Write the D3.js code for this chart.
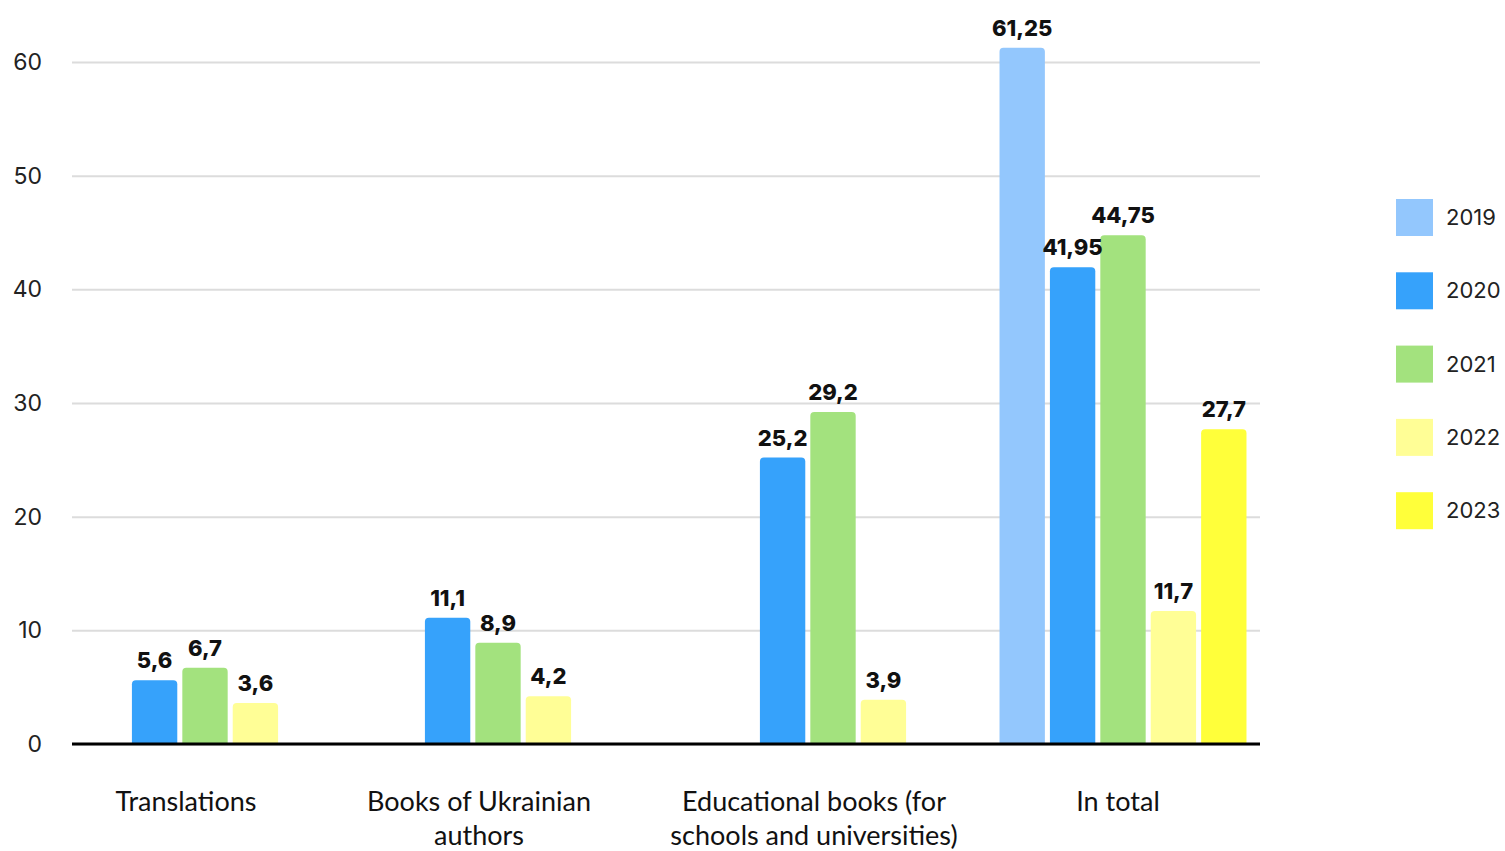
<!DOCTYPE html>
<html>
<head>
<meta charset="utf-8">
<script src="https://cdn.jsdelivr.net/npm/d3@7"></script>
<style>
  body { margin: 0; background: #fff; }
  .tick-label { font-family: Inter, "Open Sans", sans-serif; font-size: 23px; fill: #222; }
  .value { font-family: Inter, "Open Sans", sans-serif; font-size: 22px; font-weight: 800; fill: #111; }
  .cat { font-family: Lato, "Open Sans", sans-serif; font-size: 27px; fill: #111; }
  .legend-text { font-family: Inter, "Open Sans", sans-serif; font-size: 22px; fill: #222; }
</style>
</head>
<body>
<div class="main"></div>
<script>

const categories = ["Translations", "Books of Ukrainian authors", "Educational books (for schools and universities)", "In total"]
const categoryLines = [["Translations"], ["Books of Ukrainian", "authors"], ["Educational books (for", "schools and universities)"], ["In total"]]
const years = ["2019", "2020", "2021", "2022", "2023"]

// null = no bar for that year
const values2019 = [null, null, null, 61.25]
const values2020 = [5.6, 11.1, 25.2, 41.95]
const values2021 = [6.7, 8.9, 29.2, 44.75]
const values2022 = [3.6, 4.2, 3.9, 11.7]
const values2023 = [null, null, null, 27.7]

const yTicks = [0, 10, 20, 30, 40, 50, 60]

const colors = ["#93c7fd", "#36a2fb", "#a3e27e", "#fffe96", "#ffff3a"]

const chart = () => {

    ////////////
    // CANVAS //
    ////////////

    const w = 1505
    const h = 851
    const plot = { left: 72, right: 1260, top: 62, bottom: 744 }

    const svg = d3.select(".main")
        .append("svg")
        .attr("width", w)
        .attr("height", h)

    const series = [values2019, values2020, values2021, values2022, values2023]
    const data = []
    categories.forEach((c, i) => {
        years.forEach((y, j) => {
            const v = series[j][i]
            if (v !== null) data.push({ cat: c, year: y, value: v })
        })
    })

    ////////////
    // SCALES //
    ////////////

    const yScale = d3.scaleLinear()
        .domain([0, 60])
        .range([plot.bottom, plot.top])

    // group centres are not evenly spaced in the original
    const xCat = d3.scaleOrdinal()
        .domain(categories)
        .range([205, 498, 833, 1123])

    const xYear = d3.scaleBand()
        .domain(years)
        .range([-126, 126])
        .paddingInner(0.1)
        .paddingOuter(0.05)

    const color = d3.scaleOrdinal().domain(years).range(colors)

    //////////
    // GRID //
    //////////

    const yAxis = d3.axisLeft(yScale)
        .tickValues(yTicks)
        .tickSize(-(plot.right - plot.left))
        .tickFormat(d3.format("d"))

    const yAxisG = svg.append("g")
        .attr("transform", `translate(${plot.left},0)`)
        .call(yAxis)

    yAxisG.select(".domain").remove()
    yAxisG.selectAll(".tick line")
        .attr("stroke", "#dcdcdc")
        .attr("stroke-width", 2)
    yAxisG.selectAll(".tick text")
        .attr("class", "tick-label")
        .attr("x", -30)
        .attr("text-anchor", "end")

    //////////
    // BARS //
    //////////

    const bw = xYear.bandwidth()
    const r = 4
    const barPath = d => {
        const x0 = xCat(d.cat) + xYear(d.year)
        const y0 = yScale(d.value)
        const yb = yScale(0)
        return `M${x0},${yb} V${y0 + r} Q${x0},${y0} ${x0 + r},${y0} H${x0 + bw - r} Q${x0 + bw},${y0} ${x0 + bw},${y0 + r} V${yb} Z`
    }

    svg.selectAll("path.bar")
        .data(data)
        .enter()
        .append("path")
        .attr("class", "bar")
        .attr("d", barPath)
        .attr("fill", d => color(d.year))

    svg.selectAll("text.value")
        .data(data)
        .enter()
        .append("text")
        .attr("class", "value")
        .attr("x", d => xCat(d.cat) + xYear(d.year) + bw / 2)
        .attr("y", d => yScale(d.value) - 12)
        .attr("text-anchor", "middle")
        .text(d => String(d.value).replace(".", ","))

    // baseline
    svg.append("line")
        .attr("x1", plot.left)
        .attr("x2", plot.right)
        .attr("y1", yScale(0))
        .attr("y2", yScale(0))
        .attr("stroke", "#000")
        .attr("stroke-width", 3)

    ////////////////
    // CATEGORIES //
    ////////////////

    const catLabels = svg.selectAll("text.cat")
        .data(categories)
        .enter()
        .append("text")
        .attr("class", "cat")
        .attr("text-anchor", "middle")
        .attr("transform", (d, i) => `translate(${xCat(d) - (i === 3 ? 5 : 19)},${plot.bottom + 67})`)

    catLabels.selectAll("tspan")
        .data((d, i) => categoryLines[i])
        .enter()
        .append("tspan")
        .attr("x", 0)
        .attr("dy", (d, i) => i === 0 ? 0 : 34)
        .text(d => d)

    ////////////
    // LEGEND //
    ////////////

    const legend = svg.append("g")
        .attr("transform", "translate(1396,199)")

    const item = legend.selectAll("g")
        .data(years)
        .enter()
        .append("g")
        .attr("transform", (d, i) => `translate(0,${i * 73.3})`)

    item.append("rect")
        .attr("width", 37)
        .attr("height", 37)
        .attr("fill", d => color(d))

    item.append("text")
        .attr("class", "legend-text")
        .attr("x", 50)
        .attr("y", 26)
        .text(d => d)
}

chart()

</script>
</body>
</html>
